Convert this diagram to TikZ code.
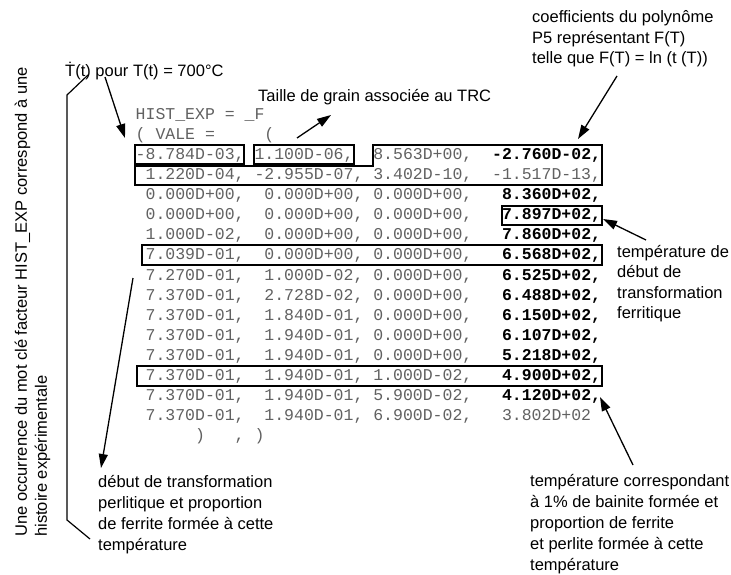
\documentclass[tikz,border=0pt]{standalone}
\usepackage{fontspec}
\setmainfont{Liberation Sans}
\newfontfamily\monofam{Liberation Mono}
\usetikzlibrary{arrows.meta}
\definecolor{codegray}{gray}{0.38}
\newcommand\bnum[1]{\textcolor{black}{\bfseries #1}}
\newcommand\sz[1]{\fontsize{16.5}{#1}\selectfont}
\begin{document}
\begin{tikzpicture}[x=1pt,y=-1pt,
  code/.style={anchor=base west,inner sep=0pt,text=codegray,font=\monofam\fontsize{16.5}{20}\selectfont\frenchspacing},
  lbl/.style={anchor=base west,inner sep=0pt,font=\sz{20.5}},
  hlbox/.style={inner sep=0pt,outer sep=0pt,anchor=north west},
  hlline/.style={draw=black,line width=1.3pt},
  arr/.style={line width=1.3pt,-{Triangle[length=14pt,width=9pt]}},
  brace/.style={line width=1.2pt}
  ]
\useasboundingbox (0,0) rectangle (731,575);

% ---- code listing ----
\node[code] (c1)  at (135.5,119.6) {HIST\_EXP\ =\ \_F};
\node[code] (c2)  at (135.5,139.6) {(\ VALE\ =\ \ \ \ \ (};
\node[code] (r1)  at (135.5,159.7) {-8.784D-03,\ 1.100D-06,\ \ 8.563D+00,\ \ \bnum{-2.760D-02,}};
\node[code] (r2)  at (135.5,179.75) {\ 1.220D-04,\ -2.955D-07,\ 3.402D-10,\ \ -1.517D-13,};
\node[code] (r3)  at (135.5,199.8) {\ 0.000D+00,\ \ 0.000D+00,\ 0.000D+00,\ \ \ \bnum{8.360D+02,}};
\node[code] (r4)  at (135.5,219.85) {\ 0.000D+00,\ \ 0.000D+00,\ 0.000D+00,\ \ \ \bnum{7.897D+02,}};
\node[code] (r5)  at (135.5,239.9) {\ 1.000D-02,\ \ 0.000D+00,\ 0.000D+00,\ \ \ \bnum{7.860D+02,}};
\node[code] (r6)  at (135.5,259.95) {\ 7.039D-01,\ \ 0.000D+00,\ 0.000D+00,\ \ \ \bnum{6.568D+02,}};
\node[code] (r7)  at (135.5,280.0) {\ 7.270D-01,\ \ 1.000D-02,\ 0.000D+00,\ \ \ \bnum{6.525D+02,}};
\node[code] (r8)  at (135.5,300.05) {\ 7.370D-01,\ \ 2.728D-02,\ 0.000D+00,\ \ \ \bnum{6.488D+02,}};
\node[code] (r9)  at (135.5,320.1) {\ 7.370D-01,\ \ 1.840D-01,\ 0.000D+00,\ \ \ \bnum{6.150D+02,}};
\node[code] (r10) at (135.5,340.15) {\ 7.370D-01,\ \ 1.940D-01,\ 0.000D+00,\ \ \ \bnum{6.107D+02,}};
\node[code] (r11) at (135.5,360.2) {\ 7.370D-01,\ \ 1.940D-01,\ 0.000D+00,\ \ \ \bnum{5.218D+02,}};
\node[code] (r12) at (135.5,380.25) {\ 7.370D-01,\ \ 1.940D-01,\ 1.000D-02,\ \ \ \bnum{4.900D+02,}};
\node[code] (r13) at (135.5,400.3) {\ 7.370D-01,\ \ 1.940D-01,\ 5.900D-02,\ \ \ \bnum{4.120D+02,}};
\node[code] (r14) at (135.5,420.35) {\ 7.370D-01,\ \ 1.940D-01,\ 6.900D-02,\ \ \ 3.802D+02};
\node[code] (r15) at (135.5,440.4) {\ \ \ \ \ \ )\ \ \ ,\ )};

% ---- highlight frames ----
\node[hlbox,minimum width=109pt,minimum height=19pt] (bA) at (135,145) {};
\node[hlbox,minimum width=100pt,minimum height=19pt] (bB) at (254,145) {};
\node[hlbox,minimum width=100pt,minimum height=19pt] (b4) at (502,206) {};
\node[hlbox,minimum width=460pt,minimum height=20pt] (b6) at (142,245) {};
\node[hlbox,minimum width=465pt,minimum height=20pt] (b12) at (137,366) {};
\draw[hlline] (bA.north west) rectangle (bA.south east);
\draw[hlline] (bB.north west) rectangle (bB.south east);
\draw[hlline] (b4.north west) rectangle (b4.south east);
\draw[hlline] (b6.north west) rectangle (b6.south east);
\draw[hlline] (b12.north west) rectangle (b12.south east);
\draw[hlline] (373,145) -- (602,145) -- (602,185) -- (135,185) -- (135,166) -- (373,166) -- cycle;

% ---- labels ----
\node[lbl] (tdot) at (65,77) {Ṫ(t) pour T(t) = 700°C};
\node[lbl] (taille) at (258,102) {Taille de grain associée au TRC};
\node[lbl] (coef) at (532,23) {\begin{tabular}[t]{@{}l@{}}coefficients du polynôme\\P5 représentant F(T)\\telle que F(T) = ln (t (T))\end{tabular}};
\node[lbl] (ferr) at (617,257) {\begin{tabular}[t]{@{}l@{}}température de\\début de\\transformation\\ferritique\end{tabular}};
\node[lbl,font=\sz{21.2}] (perl) at (98,487) {\begin{tabular}[t]{@{}l@{}}début de transformation\\perlitique et proportion\\de ferrite formée à cette\\température\end{tabular}};
\node[lbl,font=\sz{21.2}] (bain) at (530,486) {\begin{tabular}[t]{@{}l@{}}température correspondant\\à 1\% de bainite formée et\\proportion de ferrite\\et perlite formée à cette\\température\end{tabular}};
\node[lbl,font=\sz{20},rotate=90] (occ) at (27,537) {\begin{tabular}[t]{@{}l@{}}Une occurrence du mot clé facteur HIST\_EXP correspond à une\\histoire expérimentale\end{tabular}};

% ---- connector end points ----
\coordinate (tdotT) at (105,77);
\coordinate (valeH) at (125,138);
\coordinate (bBT) at (297,138);
\coordinate (tailleH) at (331,115);
\coordinate (coefT) at (617,76);
\coordinate (polyH) at (578,139);
\coordinate (ferrT) at (646,240);
\coordinate (b4H) at (603,219);
\coordinate (bainT) at (633,465);
\coordinate (r13H) at (600,397);
\coordinate (r7T) at (133,278);
\coordinate (perlH) at (101,468);
\coordinate (brA) at (88,75);
\coordinate (brB) at (67,95);
\coordinate (brC) at (67,520);
\coordinate (brD) at (90,539);

% ---- connectors ----
\draw[arr] (tdotT) -- (valeH);
\draw[arr] (bBT) -- (tailleH);
\draw[arr] (coefT) -- (polyH);
\draw[arr] (ferrT) -- (b4H);
\draw[arr] (bainT) -- (r13H);
\draw[arr] (r7T) -- (perlH);
\draw[brace] (brA) -- (brB) -- (brC) -- (brD);
\end{tikzpicture}
\end{document}
